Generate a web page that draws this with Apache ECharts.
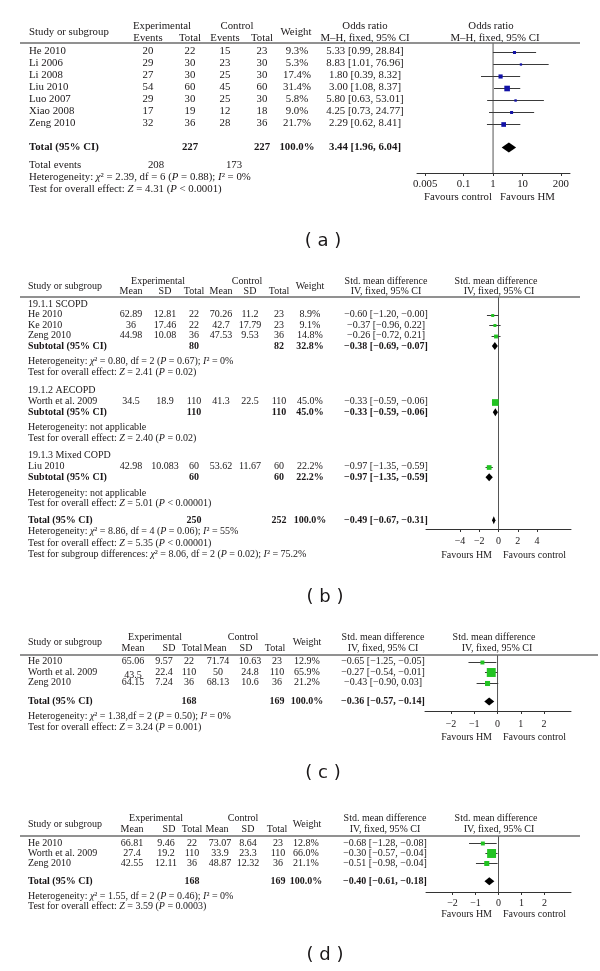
<!DOCTYPE html>
<html><head><meta charset="utf-8">
<script src="https://cdn.jsdelivr.net/npm/echarts@6/dist/echarts.min.js"></script>
<style>html,body{margin:0;padding:0;background:#fff}#c{width:600px;height:971px}</style>
</head><body><div id="c"></div>
<script>
// ================= DATA =================
// ---- Panel (a): odds ratio ----
const studiesA = ['He 2010','Li 2006','Li 2008','Liu 2010','Luo 2007','Xiao 2008','Zeng 2010'];
const expEventsA = [20,29,27,54,29,17,32];
const expTotalA = [22,30,30,60,30,19,36];
const ctlEventsA = [15,23,25,45,25,12,28];
const ctlTotalA = [23,30,30,60,30,18,36];
const weightA = [9.3,5.3,17.4,31.4,5.8,9.0,21.7];
const orA = [5.33,8.83,1.80,3.00,5.80,4.25,2.29];
const orLowA = [0.99,1.01,0.39,1.08,0.63,0.73,0.62];
const orHighA = [28.84,76.96,8.32,8.37,53.01,24.77,8.41];
const totalNA = [227,227];
const totalEventsA = [208,173];
const totalOrA = [3.44,1.96,6.04];
const hetA = 'Heterogeneity: {i|χ}² = 2.39, df = 6 ({i|P} = 0.88); {i|I}² = 0%';
const testA = 'Test for overall effect: {i|Z} = 4.31 ({i|P} < 0.0001)';
const ticksA = [0.005,0.1,1,10,200];
const tickLabelsA = ['0.005','0.1','1','10','200'];

// ---- Panel (b): SMD with subgroups ----
const groupsB = ['19.1.1 SCOPD','19.1.2 AECOPD','19.1.3 Mixed COPD'];
const studiesB = ['He 2010','Ke 2010','Zeng 2010','Worth et al. 2009','Liu 2010'];
const meanExpB = [62.89,36,44.98,34.5,42.98];
const sdExpB = [12.81,17.46,10.08,18.9,10.083];
const nExpB = [22,22,36,110,60];
const meanCtlB = [70.26,42.7,47.53,41.3,53.62];
const sdCtlB = [11.2,17.79,9.53,22.5,11.67];
const nCtlB = [23,23,36,110,60];
const weightB = [8.9,9.1,14.8,45.0,22.2];
const smdB = [-0.60,-0.37,-0.26,-0.33,-0.97];
const smdLowB = [-1.20,-0.96,-0.72,-0.59,-1.35];
const smdHighB = [-0.00,0.22,0.21,-0.06,-0.59];
const subNExpB = [80,110,60];
const subNCtlB = [82,110,60];
const subWeightB = [32.8,45.0,22.2];
const subSmdB = [-0.38,-0.33,-0.97];
const subLowB = [-0.69,-0.59,-1.35];
const subHighB = [-0.07,-0.06,-0.59];
const subHetB = ['Heterogeneity: {i|χ}² = 0.80, df = 2 ({i|P} = 0.67); {i|I}² = 0%','Heterogeneity: not applicable','Heterogeneity: not applicable'];
const subTestB = ['Test for overall effect: {i|Z} = 2.41 ({i|P} = 0.02)','Test for overall effect: {i|Z} = 2.40 ({i|P} = 0.02)','Test for overall effect: {i|Z} = 5.01 ({i|P} < 0.00001)'];
const totalNB = [250,252];
const totalSmdB = [-0.49,-0.67,-0.31];
const hetB = 'Heterogeneity: {i|χ}² = 8.86, df = 4 ({i|P} = 0.06); {i|I}² = 55%';
const testB = 'Test for overall effect: {i|Z} = 5.35 ({i|P} < 0.00001)';
const diffB = 'Test for subgroup differences: {i|χ}² = 8.06, df = 2 ({i|P} = 0.02); {i|I}² = 75.2%';
const ticksB = [-4,-2,0,2,4];

// ---- Panel (c) ----
const studiesC = ['He 2010','Worth et al. 2009','Zeng 2010'];
const meanExpC = [65.06,43.5,64.15];
const sdExpC = [9.57,22.4,7.24];
const nExpC = [22,110,36];
const meanCtlC = [71.74,50,68.13];
const sdCtlC = [10.63,24.8,10.6];
const nCtlC = [23,110,36];
const weightC = [12.9,65.9,21.2];
const smdC = [-0.65,-0.27,-0.43];
const smdLowC = [-1.25,-0.54,-0.90];
const smdHighC = [-0.05,-0.01,0.03];
const totalNC = [168,169];
const totalSmdC = [-0.36,-0.57,-0.14];
const hetC = 'Heterogeneity: {i|χ}² = 1.38,df = 2 ({i|P} = 0.50); {i|I}² = 0%';
const testC = 'Test for overall effect: {i|Z} = 3.24 ({i|P} = 0.001)';
const ticksC = [-2,-1,0,1,2];

// ---- Panel (d) ----
const studiesD = ['He 2010','Worth et al. 2009','Zeng 2010'];
const meanExpD = [66.81,27.4,42.55];
const sdExpD = [9.46,19.2,12.11];
const nExpD = [22,110,36];
const meanCtlD = [73.07,33.9,48.87];
const sdCtlD = [8.64,23.3,12.32];
const nCtlD = [23,110,36];
const weightD = [12.8,66.0,21.1];
const smdD = [-0.68,-0.30,-0.51];
const smdLowD = [-1.28,-0.57,-0.98];
const smdHighD = [-0.08,-0.04,-0.04];
const totalND = [168,169];
const totalSmdD = [-0.40,-0.61,-0.18];
const hetD = 'Heterogeneity: {i|χ}² = 1.55, df = 2 ({i|P} = 0.46); {i|I}² = 0%';
const testD = 'Test for overall effect: {i|Z} = 3.59 ({i|P} = 0.0003)';
const ticksD = [-2,-1,0,1,2];

// ================= LAYOUT =================
const LA = {top:43, height:130, left:417, width:153, xMin:-2.58, xMax:2.61, row0:51.5, pitch:12, fs:10.8, k:1.0, dia:10, labelMargin:6,
  hdrY:[26,32,38], rule:[20,580], col:{study:29, evE:148, nE:190, evC:225, nC:262, w:297, est:365},
  hdr:{exp:162, ctl:237, w:296}, plotHdr:[491,495], totEvX:[156,234],
  rows:{total:8, events:9.5, het:10.5, test:11.5}, favY:197, favX:[492,500], tag:[323,241]};
const LB = {top:297, height:232, left:426, width:145, xMin:-7.53, xMax:7.53, row0:304, pitch:10.5, fs:10, k:1.0, dia:8, labelMargin:7,
  hdrY:[281,286,291], rule:[20,580], col:{study:28, mE:131, sdE:165, nE:194, mC:221, sdC:250, nC:279, w:310, est:386},
  hdr:{exp:158, ctl:247, w:310}, sub:[131,165,194,221,250,279], plotHdr:[496,499],
  groupRow:[0,8.25,14.45], studyRow:[1,2,3,9.3,15.5], subRow:[4,10.3,16.5], subHetRow:[5.45,11.75,18.0], subTestRow:[6.5,12.75,19.0],
  rows:{total:20.6, het:21.65, test:22.75, diff:23.8}, favY:555, favX:[492,503], tag:[325,597]};
const LC = {top:655, height:56, left:425, width:146, xMin:-3.12, xMax:3.16, row0:661.5, pitch:10.5, fs:10, k:1.1, dia:8, labelMargin:8,
  hdrY:[637,642.5,648], rule:[20,598], col:{study:28, mE:133, sdE:164, nE:189, mC:218, sdC:250, nC:277, w:307, est:383},
  hdr:{exp:155, ctl:243, w:307}, sub:[133,169,192,215,246,275], plotHdr:[494,497], meanDy:[0,3,0],
  rows:{total:3.8, het:5.2, test:6.25}, favY:737, favX:[492,503], tag:[323,773]};
const LD = {top:836, height:56, left:426, width:145, xMin:-3.15, xMax:3.15, row0:843, pitch:10.2, fs:10, k:1.1, dia:8, labelMargin:6,
  hdrY:[818,824,829], rule:[20,580], col:{study:28, mE:132, sdE:166, nE:192, mC:220, sdC:248, nC:278, w:306, est:385},
  hdr:{exp:156, ctl:243, w:307}, sub:[132,169,192,217,248,277], plotHdr:[496,499], meanDy:[0,0,0],
  rows:{total:3.75, het:5.2, test:6.2}, favY:914, favX:[492,503], tag:[325,955]};

const TXT = '#1a1718';
const SERIF = '"Liberation Serif","Times New Roman",serif';
const SANS = '"DejaVu Sans",sans-serif';
const BLUE = '#1212a6';
const GREEN = '#22c322';

// ================= HELPERS =================
const g = [];
function T(x, y, text, fs, o) {
  o = o || {};
  const fw = o.bold ? 'bold' : 'normal';
  g.push({type:'text', x:x, y:y, silent:true, z:10, style:{
    text:String(text), fontFamily:o.family || SERIF, fontSize:fs, fontWeight:fw,
    fill:TXT, align:o.align || 'left', verticalAlign:'middle',
    textAlign:o.align || 'left', textVerticalAlign:'middle',
    rich:{i:{fontStyle:'italic', fontFamily:SERIF, fontSize:fs, fontWeight:fw, fill:TXT}}
  }});
}
function rule(x1, x2, y) {
  g.push({type:'line', silent:true, z:10, shape:{x1:x1, y1:y, x2:x2, y2:y}, style:{stroke:'#6d6d6d', lineWidth:1.6}});
}
const rowY = (L, r) => L.row0 + r * L.pitch;
const neg = v => (v < 0 || Object.is(v, -0)) ? '−' + Math.abs(v).toFixed(2) : v.toFixed(2);
const ciS = (e, l, h) => `${neg(e)} [${neg(l)}, ${neg(h)}]`;
const ciOR = (e, l, h) => `${e.toFixed(2)} [${l.toFixed(2)}, ${h.toFixed(2)}]`;
const pct = w => w.toFixed(1) + '%';
const CEN = {align:'center'};
const BC = {align:'center', bold:true};

// ================= PANEL A TEXT =================
(function(){
  const L = LA, f = L.fs, c = L.col;
  T(c.study, L.hdrY[1], 'Study or subgroup', f);
  T(L.hdr.exp, L.hdrY[0], 'Experimental', f, CEN);
  T(L.hdr.ctl, L.hdrY[0], 'Control', f, CEN);
  T(c.evE, L.hdrY[2], 'Events', f, CEN); T(c.nE, L.hdrY[2], 'Total', f, CEN);
  T(c.evC, L.hdrY[2], 'Events', f, CEN); T(c.nC, L.hdrY[2], 'Total', f, CEN);
  T(L.hdr.w, L.hdrY[1], 'Weight', f, CEN);
  T(c.est, L.hdrY[0], 'Odds ratio', f, CEN); T(c.est, L.hdrY[2], 'M–H, fixed, 95% CI', f, CEN);
  T(L.plotHdr[0], L.hdrY[0], 'Odds ratio', f, CEN); T(L.plotHdr[1], L.hdrY[2], 'M–H, fixed, 95% CI', f, CEN);
  rule(L.rule[0], L.rule[1], L.top);
  studiesA.forEach((s, i) => {
    const y = rowY(L, i);
    T(c.study, y, s, f);
    T(c.evE, y, expEventsA[i], f, CEN); T(c.nE, y, expTotalA[i], f, CEN);
    T(c.evC, y, ctlEventsA[i], f, CEN); T(c.nC, y, ctlTotalA[i], f, CEN);
    T(c.w, y, pct(weightA[i]), f, CEN);
    T(c.est, y, ciOR(orA[i], orLowA[i], orHighA[i]), f, CEN);
  });
  let y = rowY(L, L.rows.total);
  T(c.study, y, 'Total (95% CI)', f, {bold:true});
  T(c.nE, y, totalNA[0], f, BC); T(c.nC, y, totalNA[1], f, BC);
  T(c.w, y, '100.0%', f, BC);
  T(c.est, y, ciOR(totalOrA[0], totalOrA[1], totalOrA[2]), f, BC);
  y = rowY(L, L.rows.events);
  T(c.study, y, 'Total events', f);
  T(L.totEvX[0], y, totalEventsA[0], f, CEN); T(L.totEvX[1], y, totalEventsA[1], f, CEN);
  T(c.study, rowY(L, L.rows.het), hetA, f);
  T(c.study, rowY(L, L.rows.test), testA, f);
  T(L.favX[0], L.favY, 'Favours control', f, {align:'right'});
  T(L.favX[1], L.favY, 'Favours HM', f);
  T(L.tag[0], L.tag[1], '( a )', 18, {family:SANS, align:'center'});
})();

// ================= SMD TABLE HELPERS =================
function smdHeader(L) {
  const f = L.fs, c = L.col;
  T(c.study, L.hdrY[1], 'Study or subgroup', f);
  T(L.hdr.exp, L.hdrY[0], 'Experimental', f, CEN);
  T(L.hdr.ctl, L.hdrY[0], 'Control', f, CEN);
  ['Mean','SD','Total','Mean','SD','Total'].forEach((h, j) => T(L.sub[j], L.hdrY[2], h, f, CEN));
  T(L.hdr.w, L.hdrY[1], 'Weight', f, CEN);
  T(c.est, L.hdrY[0], 'Std. mean difference', f, CEN); T(c.est, L.hdrY[2], 'IV, fixed, 95% CI', f, CEN);
  T(L.plotHdr[0], L.hdrY[0], 'Std. mean difference', f, CEN); T(L.plotHdr[1], L.hdrY[2], 'IV, fixed, 95% CI', f, CEN);
  rule(L.rule[0], L.rule[1], L.top);
  T(L.favX[0], L.favY, 'Favours HM', f, {align:'right'});
  T(L.favX[1], L.favY, 'Favours control', f);
}
function smdRow(L, y, name, mE, sE, nE, mC, sC, nC, w, e, lo, hi, dyMean) {
  const f = L.fs, c = L.col;
  T(c.study, y, name, f);
  T(c.mE, y + (dyMean || 0), mE, f, CEN); T(c.sdE, y, sE, f, CEN); T(c.nE, y, nE, f, CEN);
  T(c.mC, y, mC, f, CEN); T(c.sdC, y, sC, f, CEN); T(c.nC, y, nC, f, CEN);
  T(c.w, y, pct(w), f, CEN);
  T(c.est, y, ciS(e, lo, hi), f, CEN);
}
function smdTotal(L, y, label, nE, nC, w, e, lo, hi) {
  const f = L.fs, c = L.col;
  T(c.study, y, label, f, {bold:true});
  T(c.nE, y, nE, f, BC); T(c.nC, y, nC, f, BC);
  T(c.w, y, pct(w), f, BC);
  T(c.est, y, ciS(e, lo, hi), f, BC);
}

// ================= PANEL B TEXT =================
(function(){
  const L = LB, f = L.fs;
  smdHeader(L);
  groupsB.forEach((gname, gi) => T(L.col.study, rowY(L, L.groupRow[gi]), gname, f));
  studiesB.forEach((s, i) => smdRow(L, rowY(L, L.studyRow[i]), s, meanExpB[i], sdExpB[i], nExpB[i], meanCtlB[i], sdCtlB[i], nCtlB[i], weightB[i], smdB[i], smdLowB[i], smdHighB[i]));
  groupsB.forEach((gname, gi) => {
    smdTotal(L, rowY(L, L.subRow[gi]), 'Subtotal (95% CI)', subNExpB[gi], subNCtlB[gi], subWeightB[gi], subSmdB[gi], subLowB[gi], subHighB[gi]);
    T(L.col.study, rowY(L, L.subHetRow[gi]), subHetB[gi], f);
    T(L.col.study, rowY(L, L.subTestRow[gi]), subTestB[gi], f);
  });
  smdTotal(L, rowY(L, L.rows.total), 'Total (95% CI)', totalNB[0], totalNB[1], 100.0, totalSmdB[0], totalSmdB[1], totalSmdB[2]);
  T(L.col.study, rowY(L, L.rows.het), hetB, f);
  T(L.col.study, rowY(L, L.rows.test), testB, f);
  T(L.col.study, rowY(L, L.rows.diff), diffB, f);
  T(L.tag[0], L.tag[1], '( b )', 18, {family:SANS, align:'center'});
})();

// ================= PANELS C, D TEXT =================
function simplePanel(L, studies, mE, sE, nE, mC, sC, nC, w, e, lo, hi, totN, totE, het, test, tag) {
  smdHeader(L);
  studies.forEach((s, i) => smdRow(L, rowY(L, i), s, mE[i], sE[i], nE[i], mC[i], sC[i], nC[i], w[i], e[i], lo[i], hi[i], L.meanDy[i]));
  smdTotal(L, rowY(L, L.rows.total), 'Total (95% CI)', totN[0], totN[1], 100.0, totE[0], totE[1], totE[2]);
  T(L.col.study, rowY(L, L.rows.het), het, L.fs);
  T(L.col.study, rowY(L, L.rows.test), test, L.fs);
  T(L.tag[0], L.tag[1], tag, 18, {family:SANS, align:'center'});
}
simplePanel(LC, studiesC, meanExpC, sdExpC, nExpC, meanCtlC, sdCtlC, nCtlC, weightC, smdC, smdLowC, smdHighC, totalNC, totalSmdC, hetC, testC, '( c )');
simplePanel(LD, studiesD, meanExpD, sdExpD, nExpD, meanCtlD, sdCtlD, nCtlD, weightD, smdD, smdLowD, smdHighD, totalND, totalSmdD, hetD, testD, '( d )');

// ================= CHART =================
const panels = [LA, LB, LC, LD];
const grids = panels.map(L => ({left:L.left, top:L.top, width:L.width, height:L.height, containLabel:false, outerBoundsMode:'none'}));
const minusFmt = v => v < 0 ? '−' + Math.abs(v) : String(v);
const logTicksA = ticksA.map(Math.log10);
const fmtA = v => { const i = logTicksA.findIndex(t => Math.abs(t - v) < 1e-6); return i >= 0 ? tickLabelsA[i] : ''; };
function xAx(gi, L, ticks, fmt) {
  return {gridIndex:gi, type:'value', min:L.xMin, max:L.xMax, position:'bottom',
    axisLine:{show:true, onZero:false, lineStyle:{color:'#333', width:1}},
    axisTick:{show:true, inside:false, length:3, customValues:ticks, lineStyle:{color:'#333', width:1}},
    axisLabel:{show:true, customValues:ticks, formatter:fmt, fontFamily:SERIF, fontSize:L.fs, color:TXT, margin:L.labelMargin},
    splitLine:{show:false}, minorTick:{show:false}};
}
function yAx(gi, L) {
  return {gridIndex:gi, type:'value', inverse:true, show:false,
    min:(L.top - L.row0) / L.pitch, max:(L.top + L.height - L.row0) / L.pitch, splitLine:{show:false}};
}
function studySeries(gi, L, est, lo, hi, rows, w, color) {
  return {type:'custom', xAxisIndex:gi, yAxisIndex:gi, silent:true, z:3, clip:false,
    data: est.map((v, i) => [v, rows[i], lo[i], hi[i], w[i]]),
    encode:{x:0, y:1},
    renderItem:(p, api) => {
      const yv = api.value(1);
      const c = api.coord([api.value(0), yv]);
      const a = api.coord([api.value(2), yv]);
      const b = api.coord([api.value(3), yv]);
      const s = Math.sqrt(api.value(4)) * L.k;
      const yy = Math.round(c[1]) + 0.5;
      return {type:'group', children:[
        {type:'line', shape:{x1:a[0], y1:yy, x2:b[0], y2:yy}, style:{stroke:'#3a3a3a', lineWidth:1}},
        {type:'rect', shape:{x:c[0] - s / 2, y:yy - s / 2, width:s, height:s}, style:{fill:color}}
      ]};
    }};
}
function diamondSeries(gi, L, est, lo, hi, rows) {
  return {type:'custom', xAxisIndex:gi, yAxisIndex:gi, silent:true, z:4, clip:false,
    data: est.map((v, i) => [v, rows[i], lo[i], hi[i]]),
    encode:{x:0, y:1},
    renderItem:(p, api) => {
      const yv = api.value(1);
      const c = api.coord([api.value(0), yv]);
      const a = api.coord([api.value(2), yv]);
      const b = api.coord([api.value(3), yv]);
      const h = L.dia / 2;
      return {type:'polygon', shape:{points:[[a[0], c[1]], [c[0], c[1] - h], [b[0], c[1]], [c[0], c[1] + h]]}, style:{fill:'#000'}};
    }};
}
function zeroLine(gi, L, x0) {
  const ya = yAx(gi, L);
  return {type:'line', xAxisIndex:gi, yAxisIndex:gi, silent:true, z:2, showSymbol:false, symbol:'none',
    data:[[x0, ya.min], [x0, ya.max]], lineStyle:{color:'#555', width:1}};
}
const idx = n => Array.from({length:n}, (_, i) => i);

const series = [
  zeroLine(0, LA, 0),
  studySeries(0, LA, orA.map(Math.log10), orLowA.map(Math.log10), orHighA.map(Math.log10), idx(studiesA.length), weightA, BLUE),
  diamondSeries(0, LA, [Math.log10(totalOrA[0])], [Math.log10(totalOrA[1])], [Math.log10(totalOrA[2])], [LA.rows.total]),
  zeroLine(1, LB, 0),
  studySeries(1, LB, smdB, smdLowB, smdHighB, LB.studyRow, weightB, GREEN),
  diamondSeries(1, LB, subSmdB.concat([totalSmdB[0]]), subLowB.concat([totalSmdB[1]]), subHighB.concat([totalSmdB[2]]), LB.subRow.concat([LB.rows.total])),
  zeroLine(2, LC, 0),
  studySeries(2, LC, smdC, smdLowC, smdHighC, idx(studiesC.length), weightC, GREEN),
  diamondSeries(2, LC, [totalSmdC[0]], [totalSmdC[1]], [totalSmdC[2]], [LC.rows.total]),
  zeroLine(3, LD, 0),
  studySeries(3, LD, smdD, smdLowD, smdHighD, idx(studiesD.length), weightD, GREEN),
  diamondSeries(3, LD, [totalSmdD[0]], [totalSmdD[1]], [totalSmdD[2]], [LD.rows.total])
];

const chart = echarts.init(document.getElementById('c'), null, {renderer:'canvas'});
chart.setOption({
  animation:false,
  backgroundColor:'#fff',
  grid:grids,
  xAxis:[xAx(0, LA, logTicksA, fmtA), xAx(1, LB, ticksB, minusFmt), xAx(2, LC, ticksC, minusFmt), xAx(3, LD, ticksD, minusFmt)],
  yAxis:[yAx(0, LA), yAx(1, LB), yAx(2, LC), yAx(3, LD)],
  series:series,
  graphic:{elements:g}
});
</script>
</body></html>
